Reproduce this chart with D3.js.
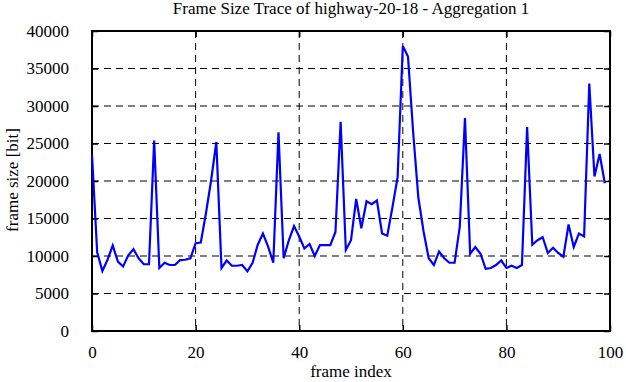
<!DOCTYPE html>
<meta charset="utf-8">
<script src="https://cdn.jsdelivr.net/npm/d3@7"></script>
<style>
  body { margin: 0; background: #fff; }
  text { font-family: "Liberation Serif", "Times New Roman", serif; fill: #000; }
</style>
<div id="my_dataviz"></div>
<script>

// frame sizes [bit], frame index 0..99
var frameSize = [
  23500, 10500, 8000, 9500, 11400, 9250, 8600, 10100, 10900, 9700,
  8900, 8900, 25400, 8400, 9100, 8800, 8800, 9450, 9500, 9700,
  11700, 11800, 15700, 20100, 25200, 8400, 9400, 8700, 8700, 8800,
  7950, 9100, 11500, 13000, 11250, 9100, 26500, 9700, 12100, 14000,
  12600, 11000, 11600, 10000, 11450, 11450, 11450, 13200, 27900, 10800,
  12100, 17600, 13700, 17300, 16900, 17400, 13000, 12700, 16500, 20500,
  38000, 36600, 26500, 17800, 13300, 9700, 8800, 10600, 9700, 9100,
  9100, 13900, 28400, 10300, 11200, 10300, 8300, 8400, 8800, 9400,
  8400, 8700, 8400, 8800, 27200, 11500, 12100, 12500, 10400, 11100,
  10400, 9900, 14200, 11200, 13000, 12600, 33000, 20600, 23600, 19700
];
var xTicks = [0, 20, 40, 60, 80, 100];
var yTicks = [0, 5000, 10000, 15000, 20000, 25000, 30000, 35000, 40000];

var margin = {top: 31, right: 16, bottom: 51, left: 92},
  width = 626 - margin.left - margin.right,
  height = 382 - margin.top - margin.bottom;

var svg = d3.select("#my_dataviz")
  .append("svg")
    .attr("width", 626)
    .attr("height", 382)
  .append("g")
    .attr("transform", "translate(" + margin.left + "," + margin.top + ")");

var x = d3.scaleLinear().domain([0, 100]).range([0, width]);
var y = d3.scaleLinear().domain([0, 40000]).range([height, 0]);

// dashed grid
svg.selectAll(".gx")
  .data(xTicks.slice(1, -1))
  .enter().append("line")
    .attr("x1", function(d) { return x(d); })
    .attr("x2", function(d) { return x(d); })
    .attr("y1", 0).attr("y2", height)
    .style("stroke", "#000").style("stroke-width", 1)
    .style("stroke-dasharray", "7,5");
svg.selectAll(".gy")
  .data(yTicks.slice(1, -1))
  .enter().append("line")
    .attr("y1", function(d) { return y(d); })
    .attr("y2", function(d) { return y(d); })
    .attr("x1", 0).attr("x2", width)
    .style("stroke", "#000").style("stroke-width", 1)
    .style("stroke-dasharray", "7,5");

// axes with inward ticks, mirrored
function styleAxis(g) {
  g.attr("font-family", null).attr("font-size", null);
  g.select(".domain").remove();
  g.selectAll(".tick line").style("stroke", "#000").style("stroke-width", 1.5);
  g.selectAll("text").style("font-size", "17px");
}
svg.append("g")
  .attr("transform", "translate(0," + height + ")")
  .call(d3.axisBottom(x).tickValues(xTicks).tickSizeInner(-6).tickPadding(15)
    .tickFormat(d3.format("d")))
  .call(styleAxis);
svg.append("g")
  .call(d3.axisTop(x).tickValues(xTicks).tickSizeInner(-6).tickFormat(""))
  .call(styleAxis);
svg.append("g")
  .call(d3.axisLeft(y).tickValues(yTicks).tickSizeInner(-6).tickPadding(23)
    .tickFormat(d3.format("d")))
  .call(styleAxis);
svg.append("g")
  .attr("transform", "translate(" + width + ",0)")
  .call(d3.axisRight(y).tickValues(yTicks).tickSizeInner(-6).tickFormat(""))
  .call(styleAxis);

// border
svg.append("rect")
  .attr("width", width).attr("height", height)
  .style("fill", "none").style("stroke", "#000").style("stroke-width", 2);

// trace
svg.append("path")
  .datum(frameSize)
  .attr("d", d3.line()
    .x(function(d, i) { return x(i); })
    .y(function(d) { return y(d); }))
  .style("fill", "none")
  .style("stroke", "#0000ff")
  .style("stroke-width", 2.2);

// titles
svg.append("text")
  .attr("x", width / 2).attr("y", -17)
  .style("text-anchor", "middle").style("font-size", "17px")
  .text("Frame Size Trace of highway-20-18 - Aggregation 1");
svg.append("text")
  .attr("x", width / 2).attr("y", height + 46)
  .style("text-anchor", "middle").style("font-size", "17px")
  .text("frame index");
svg.append("text")
  .attr("transform", "rotate(-90)")
  .attr("x", -height / 2 + 1).attr("y", -74)
  .style("text-anchor", "middle").style("font-size", "17px")
  .text("frame size [bit]");

</script>
